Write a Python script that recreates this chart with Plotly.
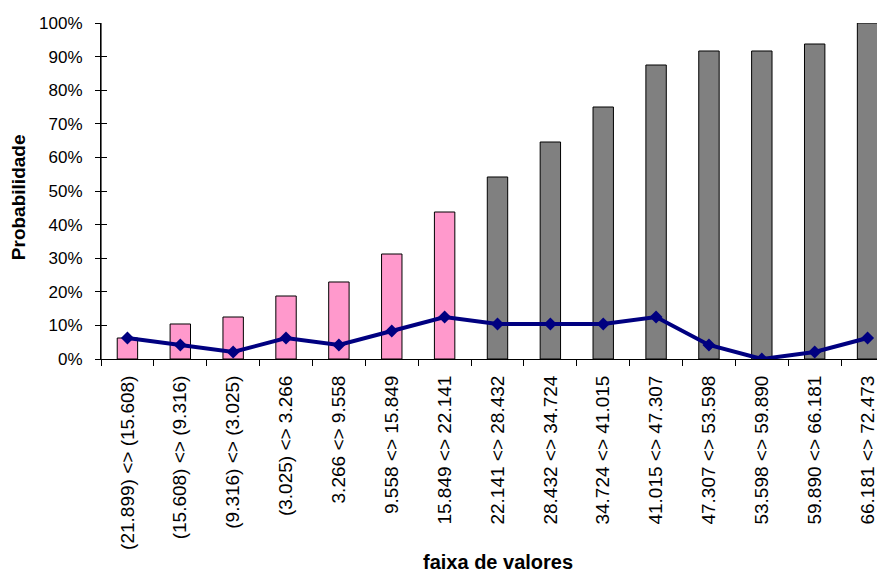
import plotly.graph_objects as go

categories = [
    "(21.899) <> (15.608)", "(15.608) <> (9.316)", "(9.316) <> (3.025)",
    "(3.025) <> 3.266", "3.266 <> 9.558", "9.558 <> 15.849", "15.849 <> 22.141",
    "22.141 <> 28.432", "28.432 <> 34.724", "34.724 <> 41.015", "41.015 <> 47.307",
    "47.307 <> 53.598", "53.598 <> 59.890", "59.890 <> 66.181", "66.181 <> 72.473",
]
cumulative_pct = [6.25, 10.42, 12.5, 18.75, 22.92, 31.25, 43.75, 54.17, 64.58,
                  75.0, 87.5, 91.67, 91.67, 93.75, 100.0]
frequency_pct = [6.25, 4.17, 2.08, 6.25, 4.17, 8.33, 12.5, 10.42, 10.42,
                 10.42, 12.5, 4.17, 0.0, 2.08, 6.25]
bar_colors = ["#FF99CC"] * 7 + ["#808080"] * 8
y_ticks = [0, 10, 20, 30, 40, 50, 60, 70, 80, 90, 100]
y_tick_labels = [f"{v}%" for v in y_ticks]

FONT = "Arial, 'Liberation Sans', sans-serif"
# the page body has an 8px margin, so the figure is drawn 8px in from the window edge
OFF = 8
W, H = 885 - OFF, 572 - OFF
L, R, T = 101 - OFF, 0, 23 - OFF
B = H - (358.7 - OFF)

fig = go.Figure()
fig.add_trace(go.Bar(
    x=categories, y=cumulative_pct,
    marker=dict(color=bar_colors, line=dict(color="#000000", width=1)),
    showlegend=False, hoverinfo="x+y",
))
fig.add_trace(go.Scatter(
    x=categories, y=frequency_pct, mode="lines+markers",
    line=dict(color="#000080", width=4),
    marker=dict(symbol="diamond", size=10, color="#000080"),
    showlegend=False,
))
# invisible trace to carry the inside half of the crossing y ticks
fig.add_trace(go.Scatter(x=[categories[0]], y=[0], yaxis="y2", mode="markers",
                         marker=dict(opacity=0), showlegend=False, hoverinfo="skip"))

fig.update_layout(
    width=W, height=H,
    margin=dict(l=L, r=R, t=T, b=B, autoexpand=False),
    paper_bgcolor="white", plot_bgcolor="white",
    bargap=0.614,
    font=dict(family=FONT, color="#000000"),
    xaxis=dict(
        type="category", range=[-0.5, 14.33], automargin=False,
        showline=True, linecolor="#000000", linewidth=1,
        ticks="outside", ticklen=6, tickcolor="#000000", tickson="boundaries",
        tickangle=-90, tickfont=dict(size=19, family=FONT),
        ticklabelstandoff=8,
        showgrid=False, zeroline=False,
    ),
    yaxis=dict(
        range=[0, 100], tickvals=y_ticks, ticktext=y_tick_labels, automargin=False,
        showline=True, linecolor="#000000", linewidth=1,
        ticks="outside", ticklen=5, tickcolor="#000000",
        tickfont=dict(size=17, family=FONT),
        ticklabelstandoff=9,
        showgrid=False, zeroline=False,
    ),
    yaxis2=dict(
        range=[0, 100], tickvals=y_ticks, overlaying="y", side="left", anchor="x",
        automargin=False,
        ticks="inside", ticklen=6, tickcolor="#000000",
        showticklabels=False, showline=True, linecolor="#000000", linewidth=1,
        showgrid=False, zeroline=False,
    ),
    shapes=[dict(type="line", xref="paper", yref="paper", x0=0, x1=0, y0=0, y1=1,
                 line=dict(color="#000000", width=1.2), layer="above")],
)

pw, ph = W - L - R, H - T - B
fig.add_annotation(text="<b>faixa de valores</b>",
                   x=(498 - OFF - L) / pw, y=1 - (H + 3 - T) / ph, xref="paper", yref="paper",
                   xanchor="center", yanchor="bottom", showarrow=False,
                   font=dict(size=20, family=FONT))
fig.add_annotation(text="<b>Probabilidade</b>",
                   x=(18 - OFF - L) / pw, y=1 - (197 - OFF - T) / ph, xref="paper", yref="paper",
                   xanchor="center", yanchor="middle", textangle=-90, showarrow=False,
                   font=dict(size=19, family=FONT))

fig.write_html("out.html")
